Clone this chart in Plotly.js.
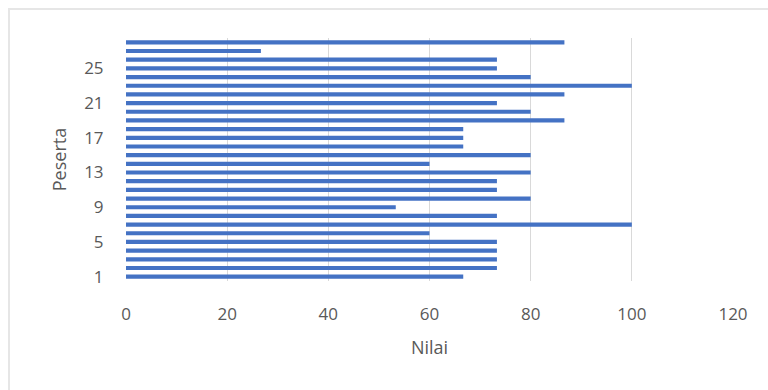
<!DOCTYPE html>
<html>
<head>
<meta charset="utf-8">
<script src="https://cdn.plot.ly/plotly-3.0.1.min.js"></script>
<style>
  html, body { margin: 0; padding: 0; background: #ffffff; }
  #wrap { position: relative; width: 768px; height: 390px; overflow: hidden; }
  #chart { width: 768px; height: 390px; }
  #frame { position: absolute; left: 8px; top: 8px; width: 900px; height: 500px;
           border-left: 2px solid #e6e6e6; border-top: 2px solid #e6e6e6; pointer-events: none; }
</style>
</head>
<body>
<div id="wrap">
  <div id="chart"></div>
  <div id="frame"></div>
</div>
<script>
const peserta = [1,2,3,4,5,6,7,8,9,10,11,12,13,14,15,16,17,18,19,20,21,22,23,24,25,26,27,28];
const nilai = [66.67,73.33,73.33,73.33,73.33,60,100,73.33,53.33,80,73.33,73.33,80,60,80,66.67,66.67,66.67,86.67,80,73.33,86.67,100,80,73.33,73.33,26.67,86.67];
const xTicks = [0,20,40,60,80,100,120];
const yTicks = [1,5,9,13,17,21,25];

const trace = {
  type: 'bar',
  orientation: 'h',
  x: nilai,
  y: peserta,
  marker: { color: '#4472C4' },
  hoverinfo: 'x+y'
};

const fontFam = '"Open Sans", "Liberation Sans", sans-serif';
const layout = {
  width: 768, height: 390,
  margin: { l: 126, r: 35, t: 38, b: 108.5 },
  paper_bgcolor: '#ffffff',
  plot_bgcolor: '#ffffff',
  bargap: 0.52,
  showlegend: false,
  font: { family: fontFam, color: '#595959', size: 17 },
  xaxis: {
    range: [0, 120],
    tickvals: xTicks,
    ticktext: xTicks.map(String),
    showgrid: true,
    gridcolor: '#d9d9d9',
    gridwidth: 1,
    zeroline: false,
    showline: false,
    ticks: 'outside',
    ticklen: 18,
    tickcolor: 'rgba(0,0,0,0)',
    tickfont: { size: 17, color: '#595959' },
    title: { text: 'Nilai', font: { size: 18, color: '#595959' }, standoff: 16 },
    automargin: false,
    fixedrange: true
  },
  yaxis: {
    range: [0.5, 28.5],
    tickvals: yTicks,
    ticktext: yTicks.map(String),
    showgrid: false,
    zeroline: false,
    showline: false,
    ticks: 'outside',
    ticklen: 18,
    tickcolor: 'rgba(0,0,0,0)',
    tickfont: { size: 17, color: '#595959' },
    title: { text: 'Peserta', font: { size: 18, color: '#595959' }, standoff: 12 },
    automargin: false,
    fixedrange: true
  }
};

Plotly.newPlot('chart', [trace], layout, { displayModeBar: false, staticPlot: true });
</script>
</body>
</html>
